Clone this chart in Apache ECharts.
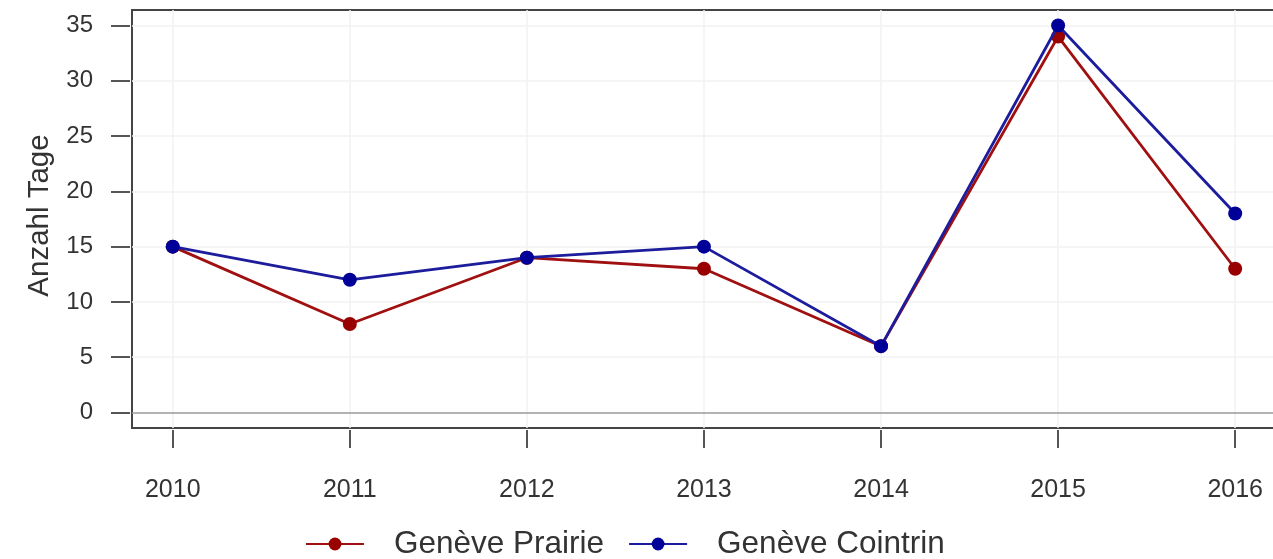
<!DOCTYPE html>
<html>
<head>
<meta charset="utf-8">
<script src="https://cdn.jsdelivr.net/npm/echarts@6/dist/echarts.min.js"></script>
<style>html,body{margin:0;padding:0;background:#fff;}#c{width:1273px;height:559px;}</style>
</head>
<body>
<div id="c"></div>
<script>
const years = [2010, 2011, 2012, 2013, 2014, 2015, 2016];
const prairie = [15, 8, 14, 13, 6, 34, 13];
const cointrin = [15, 12, 14, 15, 6, 35, 18];
const yTicks = [0, 5, 10, 15, 20, 25, 30, 35];
const seriesNames = ['Genève Prairie', 'Genève Cointrin'];
const yName = 'Anzahl Tage';

const FONT = "'Liberation Sans', Arial, sans-serif";
const chart = echarts.init(document.getElementById('c'), null, {renderer: 'canvas'});

const gridLines = [];
yTicks.filter(v => v !== 0).forEach(v => gridLines.push({yAxis: v}));
years.forEach(v => gridLines.push({xAxis: v}));

chart.setOption({
  animation: false,
  backgroundColor: '#fff',
  grid: {
    left: 132, top: 10, width: 1151, height: 418,
    outerBoundsMode: 'none', containLabel: false,
    show: true, borderColor: '#444', borderWidth: 2, backgroundColor: 'transparent'
  },
  xAxis: {
    type: 'value', min: 2009.77, max: 2016.27, offset: 2,
    axisLine: {show: false, onZero: false},
    splitLine: {show: false},
    axisTick: {show: true, inside: false, length: 18, customValues: years, lineStyle: {color: '#555', width: 2}},
    axisLabel: {customValues: years, margin: 48, color: '#333', fontSize: 25, fontFamily: FONT,
      formatter: v => String(v)}
  },
  yAxis: {
    type: 'value', min: -1.4, max: 36.4, offset: 2,
    name: yName, nameLocation: 'middle', nameGap: 75, nameRotate: 90,
    nameTextStyle: {color: '#333', fontSize: 29.5, fontFamily: FONT, padding: [0, 0, 0, 7]},
    axisLine: {show: false, onZero: false},
    splitLine: {show: false},
    axisTick: {show: true, inside: false, length: 19, customValues: yTicks, lineStyle: {color: '#555', width: 2}},
    axisLabel: {customValues: yTicks, margin: 37, color: '#333', fontSize: 24, fontFamily: FONT,
      formatter: v => String(v)}
  },
  legend: {
    data: seriesNames,
    left: 300, top: 523,
    itemWidth: 58, itemHeight: 16, itemGap: 24,
    textStyle: {color: '#333', fontSize: 31.5, fontFamily: FONT, padding: [0, 0, 0, 25]}
  },
  series: [
    {
      name: '_grid', type: 'line', data: [], z: 1, silent: true,
      markLine: {
        silent: true, symbol: 'none', label: {show: false}, z: 1,
        lineStyle: {color: '#f2f2f2', width: 1.5, type: 'solid'},
        data: gridLines
      }
    },
    {
      name: '_zero', type: 'line', data: [], z: 1, silent: true,
      markLine: {
        silent: true, symbol: 'none', label: {show: false}, z: 1,
        lineStyle: {color: '#9a9a9a', width: 1.5, type: 'solid'},
        data: [{yAxis: 0}]
      }
    },
    {
      name: seriesNames[0], type: 'line', z: 3,
      data: years.map((y, i) => [y, prairie[i]]),
      symbol: 'circle', symbolSize: 14,
      lineStyle: {color: '#a01010', width: 2.8},
      itemStyle: {color: '#990000'}
    },
    {
      name: seriesNames[1], type: 'line', z: 4,
      data: years.map((y, i) => [y, cointrin[i]]),
      symbol: 'circle', symbolSize: 14,
      lineStyle: {color: '#1c1c9c', width: 2.8},
      itemStyle: {color: '#000099'}
    }
  ]
});
</script>
</body>
</html>
